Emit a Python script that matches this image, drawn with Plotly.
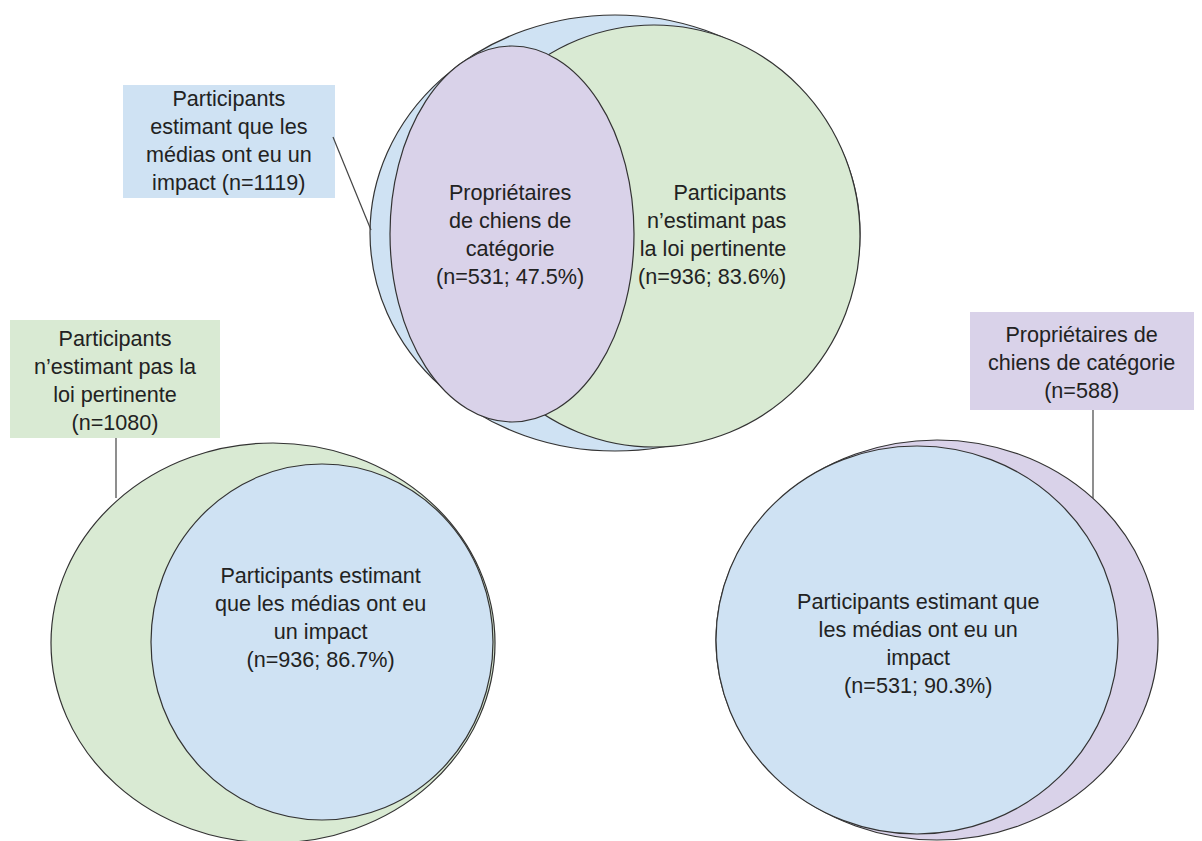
import plotly.graph_objects as go

# ---- data ----
outer_labels = [
    "Participants<br>estimant que les<br>médias ont eu un<br>impact",
    "Participants<br>n’estimant pas la<br>loi pertinente",
    "Propriétaires de<br>chiens de catégorie",
]
outer_n = [1119, 1080, 588]

inner_labels = [
    "Propriétaires<br>de chiens de<br>catégorie",
    "Participants<br>n’estimant pas<br>la loi pertinente",
    "Participants estimant<br>que les médias ont eu<br>un impact",
    "Participants estimant que<br>les médias ont eu un<br>impact",
]
inner_n = [531, 936, 936, 531]
inner_pct = [47.5, 83.6, 86.7, 90.3]

# ---- styles / layout geometry (pixel space) ----
BLUE = "#cfe2f3"
GREEN = "#d9ead3"
PURPLE = "#d9d2e9"
EDGE = "#333333"
FONT = "Liberation Sans, Arial, sans-serif"
OFF = 8  # page body margin compensation

# ellipses: (cx, cy, rx, ry, fill) drawn in order
ellipses = [
    (615, 233, 245, 218, BLUE),     # top: media impact
    (654, 236, 206, 211, GREEN),    # top: law not relevant
    (512, 234, 122, 188, PURPLE),   # top: dog owners
    (273, 643, 222, 200, GREEN),    # bottom-left: law not relevant
    (322, 642, 171, 178, BLUE),     # bottom-left: media impact
    (937, 640, 221, 200, PURPLE),   # bottom-right: dog owners
    (917, 640, 201, 194, BLUE),     # bottom-right: media impact
]

# label boxes: (x0, y0, x1, y1, fill, text_x, text_y)
boxes = [
    (123, 85, 335, 198, BLUE, 229, 140),
    (10, 320, 220, 438, GREEN, 115, 380),
    (970, 312, 1202, 410, PURPLE, 1081, 362),
]
connectors = [
    (333, 137, 371, 230),
    (116, 438, 116, 498),
    (1093, 410, 1093, 498),
]
inner_pos = [
    (510, 234, "center", "center"),
    (788, 234, "right", "right"),
    (320, 617, "center", "center"),
    (918, 643, "center", "center"),
]

fig = go.Figure()
fig.add_trace(go.Scatter(x=[0, 1202], y=[0, 841], mode="markers",
                         marker=dict(opacity=0), hoverinfo="skip", showlegend=False))

shapes = []
for cx, cy, rx, ry, fill in ellipses:
    shapes.append(dict(type="circle", xref="x", yref="y",
                       x0=cx - rx, x1=cx + rx, y0=cy - ry, y1=cy + ry,
                       fillcolor=fill, line=dict(color=EDGE, width=1.2), layer="below"))
for x0, y0, x1, y1, fill, _, _ in boxes:
    shapes.append(dict(type="rect", xref="x", yref="y", x0=x0, x1=x1, y0=y0, y1=y1,
                       fillcolor=fill, line=dict(width=0), layer="below"))
for x0, y0, x1, y1 in connectors:
    shapes.append(dict(type="line", xref="x", yref="y", x0=x0, x1=x1, y0=y0, y1=y1,
                       line=dict(color="#444444", width=1.2), layer="below"))

annotations = []
for (x0, y0, x1, y1, fill, tx, ty), lab, n in zip(boxes, outer_labels, outer_n):
    annotations.append(dict(x=tx, y=ty, xref="x", yref="y", showarrow=False,
                            text=f"{lab}<br>(n={n})" if "impact" not in lab else f"{lab} (n={n})",
                            align="center", xanchor="center", yanchor="middle",
                            font=dict(family=FONT, size=21.6, color="#222222")))
for (tx, ty, al, xa), lab, n, p in zip(inner_pos, inner_labels, inner_n, inner_pct):
    annotations.append(dict(x=tx, y=ty, xref="x", yref="y", showarrow=False,
                            text=f"{lab}<br>(n={n}; {p}%)",
                            align=al, xanchor=xa, yanchor="middle",
                            font=dict(family=FONT, size=21.6, color="#222222")))

fig.update_layout(
    width=1202, height=841, margin=dict(l=0, r=0, t=0, b=0),
    plot_bgcolor="white", paper_bgcolor="white",
    xaxis=dict(range=[OFF, 1202 + OFF], visible=False, fixedrange=True),
    yaxis=dict(range=[841 + OFF, OFF], visible=False, fixedrange=True),
    shapes=shapes, annotations=annotations, showlegend=False,
)
fig.write_html("out.html")
